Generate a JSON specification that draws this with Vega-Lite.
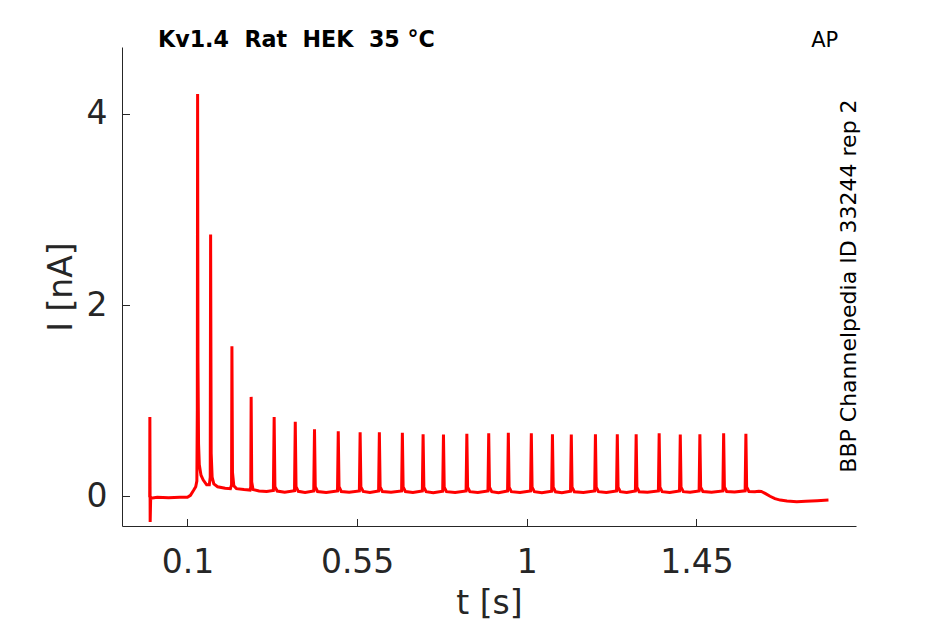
{
  "$schema": "https://vega.github.io/schema/vega-lite/v6.json",
  "width": 734,
  "height": 479,
  "autosize": {"type": "none"},
  "padding": {"left": 122, "top": 47, "right": 89, "bottom": 98},
  "background": "white",
  "config": {"view": {"stroke": null}, "font": "DejaVu Sans"},
  "title": {
    "text": "Kv1.4\u00a0\u00a0Rat\u00a0\u00a0HEK\u00a0\u00a035\u00a0°C",
    "anchor": "start",
    "frame": "group",
    "dx": 36,
    "dy": 39,
    "offset": 0,
    "baseline": "alphabetic",
    "fontSize": 22.2,
    "fontWeight": "bold",
    "font": "DejaVu Sans",
    "color": "black"
  },
  "layer": [
    {
      "data": {
        "values": [
          {"t": 0, "I": -0.01}, {"t": 0.0004, "I": 0.83}, {"t": 0.0012, "I": -0.27}, {"t": 0.0025, "I": -0.02},
          {"t": 0.02, "I": -0.01}, {"t": 0.05, "I": -0.015}, {"t": 0.08, "I": -0.01}, {"t": 0.1, "I": -0.01},
          {"t": 0.108, "I": 0.01}, {"t": 0.116, "I": 0.06}, {"t": 0.122, "I": 0.1}, {"t": 0.125, "I": 0.16},
          {"t": 0.1262, "I": 0.9}, {"t": 0.127, "I": 4.21}, {"t": 0.128, "I": 1.4}, {"t": 0.1295, "I": 0.55},
          {"t": 0.1315, "I": 0.33}, {"t": 0.136, "I": 0.22}, {"t": 0.142, "I": 0.17}, {"t": 0.151, "I": 0.12},
          {"t": 0.158, "I": 0.12}, {"t": 0.1605, "I": 0.2}, {"t": 0.1615, "I": 2.74}, {"t": 0.163, "I": 0.45},
          {"t": 0.1655, "I": 0.2}, {"t": 0.17, "I": 0.13}, {"t": 0.18, "I": 0.1}, {"t": 0.2, "I": 0.085},
          {"t": 0.214, "I": 0.08}, {"t": 0.217, "I": 0.12}, {"t": 0.218, "I": 1.57}, {"t": 0.2195, "I": 0.25},
          {"t": 0.223, "I": 0.11}, {"t": 0.23, "I": 0.08}, {"t": 0.25, "I": 0.07}, {"t": 0.266, "I": 0.065},
          {"t": 0.268, "I": 0.1}, {"t": 0.269, "I": 1.04}, {"t": 0.2705, "I": 0.15}, {"t": 0.274, "I": 0.07},
          {"t": 0.29, "I": 0.055}, {"t": 0.31, "I": 0.05},
          {"t": 0.328, "I": 0.06}, {"t": 0.330, "I": 0.83}, {"t": 0.332, "I": 0.1}, {"t": 0.338, "I": 0.055}, {"t": 0.358, "I": 0.042},
          {"t": 0.384, "I": 0.058}, {"t": 0.386, "I": 0.78}, {"t": 0.388, "I": 0.1}, {"t": 0.394, "I": 0.052}, {"t": 0.412, "I": 0.04},
          {"t": 0.435, "I": 0.056}, {"t": 0.437, "I": 0.70}, {"t": 0.439, "I": 0.1}, {"t": 0.445, "I": 0.05}, {"t": 0.468, "I": 0.04},
          {"t": 0.498, "I": 0.056}, {"t": 0.500, "I": 0.68}, {"t": 0.502, "I": 0.1}, {"t": 0.508, "I": 0.05}, {"t": 0.529, "I": 0.042},
          {"t": 0.556, "I": 0.056}, {"t": 0.558, "I": 0.67}, {"t": 0.560, "I": 0.098}, {"t": 0.566, "I": 0.05}, {"t": 0.584, "I": 0.04},
          {"t": 0.607, "I": 0.056}, {"t": 0.609, "I": 0.67}, {"t": 0.611, "I": 0.098}, {"t": 0.617, "I": 0.05}, {"t": 0.640, "I": 0.042},
          {"t": 0.668, "I": 0.055}, {"t": 0.670, "I": 0.665}, {"t": 0.672, "I": 0.097}, {"t": 0.678, "I": 0.05}, {"t": 0.698, "I": 0.04},
          {"t": 0.723, "I": 0.055}, {"t": 0.725, "I": 0.65}, {"t": 0.727, "I": 0.096}, {"t": 0.733, "I": 0.048}, {"t": 0.752, "I": 0.038},
          {"t": 0.777, "I": 0.054}, {"t": 0.779, "I": 0.645}, {"t": 0.781, "I": 0.096}, {"t": 0.787, "I": 0.048}, {"t": 0.810, "I": 0.04},
          {"t": 0.839, "I": 0.055}, {"t": 0.841, "I": 0.655}, {"t": 0.843, "I": 0.096}, {"t": 0.849, "I": 0.048}, {"t": 0.870, "I": 0.04},
          {"t": 0.897, "I": 0.055}, {"t": 0.899, "I": 0.66}, {"t": 0.901, "I": 0.096}, {"t": 0.907, "I": 0.048}, {"t": 0.925, "I": 0.038},
          {"t": 0.949, "I": 0.055}, {"t": 0.951, "I": 0.665}, {"t": 0.953, "I": 0.096}, {"t": 0.959, "I": 0.048}, {"t": 0.982, "I": 0.04},
          {"t": 1.010, "I": 0.055}, {"t": 1.012, "I": 0.66}, {"t": 1.014, "I": 0.096}, {"t": 1.020, "I": 0.048}, {"t": 1.040, "I": 0.038},
          {"t": 1.066, "I": 0.054}, {"t": 1.068, "I": 0.65}, {"t": 1.070, "I": 0.095}, {"t": 1.076, "I": 0.047}, {"t": 1.093, "I": 0.038},
          {"t": 1.116, "I": 0.054}, {"t": 1.118, "I": 0.645}, {"t": 1.120, "I": 0.095}, {"t": 1.126, "I": 0.047}, {"t": 1.150, "I": 0.04},
          {"t": 1.180, "I": 0.055}, {"t": 1.182, "I": 0.65}, {"t": 1.184, "I": 0.095}, {"t": 1.190, "I": 0.048}, {"t": 1.211, "I": 0.04},
          {"t": 1.238, "I": 0.055}, {"t": 1.240, "I": 0.648}, {"t": 1.242, "I": 0.095}, {"t": 1.248, "I": 0.048}, {"t": 1.265, "I": 0.04},
          {"t": 1.288, "I": 0.055}, {"t": 1.290, "I": 0.648}, {"t": 1.292, "I": 0.095}, {"t": 1.298, "I": 0.048}, {"t": 1.320, "I": 0.042},
          {"t": 1.349, "I": 0.056}, {"t": 1.351, "I": 0.66}, {"t": 1.353, "I": 0.096}, {"t": 1.359, "I": 0.048}, {"t": 1.379, "I": 0.04},
          {"t": 1.405, "I": 0.055}, {"t": 1.407, "I": 0.645}, {"t": 1.409, "I": 0.095}, {"t": 1.415, "I": 0.048}, {"t": 1.433, "I": 0.042},
          {"t": 1.457, "I": 0.056}, {"t": 1.459, "I": 0.65}, {"t": 1.461, "I": 0.096}, {"t": 1.467, "I": 0.05}, {"t": 1.490, "I": 0.042},
          {"t": 1.520, "I": 0.056}, {"t": 1.522, "I": 0.658}, {"t": 1.524, "I": 0.097}, {"t": 1.530, "I": 0.05}, {"t": 1.551, "I": 0.044},
          {"t": 1.579, "I": 0.057}, {"t": 1.581, "I": 0.655}, {"t": 1.583, "I": 0.097}, {"t": 1.589, "I": 0.05},
          {"t": 1.605, "I": 0.048}, {"t": 1.615, "I": 0.052}, {"t": 1.622, "I": 0.05}, {"t": 1.632, "I": 0.03},
          {"t": 1.645, "I": 0.0}, {"t": 1.658, "I": -0.025}, {"t": 1.672, "I": -0.04}, {"t": 1.69, "I": -0.05},
          {"t": 1.716, "I": -0.056}, {"t": 1.74, "I": -0.052}, {"t": 1.77, "I": -0.046}, {"t": 1.8, "I": -0.04}
        ]
      },
      "mark": {"type": "line", "color": "#ff0000", "strokeWidth": 3, "clip": true},
      "encoding": {
        "x": {
          "field": "t",
          "type": "quantitative",
          "scale": {"domain": [-0.0735, 1.873], "nice": false, "zero": false},
          "axis": {
            "values": [0.1, 0.55, 1, 1.45],
            "format": ".3~g",
            "title": "t [s]",
            "grid": false,
            "domainColor": "#262626",
            "tickColor": "#262626",
            "tickSize": -7.5,
            "labelFontSize": 33,
            "labelColor": "#262626",
            "labelBaseline": "alphabetic",
            "labelPadding": 54,
            "labelFlush": false,
            "labelOverlap": false,
            "titleFontSize": 33,
            "titleFontWeight": "normal",
            "titleColor": "#262626",
            "titleBaseline": "alphabetic",
            "titleY": 87
          }
        },
        "y": {
          "field": "I",
          "type": "quantitative",
          "scale": {"domain": [-0.311, 4.701], "nice": false, "zero": false},
          "axis": {
            "values": [0, 2, 4],
            "format": ".3~g",
            "title": "I [nA]",
            "grid": false,
            "domainColor": "#262626",
            "tickColor": "#262626",
            "tickSize": -7.5,
            "labelFontSize": 33,
            "labelColor": "#262626",
            "labelPadding": 22.5,
            "labelFlush": false,
            "labelOverlap": false,
            "titleFontSize": 33,
            "titleFontWeight": "normal",
            "titleColor": "#262626",
            "titleBaseline": "alphabetic",
            "titleX": -51
          }
        }
      }
    },
    {
      "data": {"values": [{"t": 1.79, "I": 4.70, "label": "AP"}]},
      "mark": {"type": "text", "font": "DejaVu Sans", "fontSize": 21, "align": "center", "baseline": "alphabetic", "color": "black", "clip": false},
      "encoding": {
        "x": {"field": "t", "type": "quantitative"},
        "y": {"field": "I", "type": "quantitative"},
        "text": {"field": "label"}
      }
    },
    {
      "data": {"values": [{"t": 1.8546, "I": 2.2, "label": "BBP Channelpedia ID 33244 rep 2"}]},
      "mark": {"type": "text", "font": "DejaVu Sans", "fontSize": 22, "align": "center", "baseline": "middle", "angle": 270, "color": "black", "clip": false},
      "encoding": {
        "x": {"field": "t", "type": "quantitative"},
        "y": {"field": "I", "type": "quantitative"},
        "text": {"field": "label"}
      }
    }
  ]
}
